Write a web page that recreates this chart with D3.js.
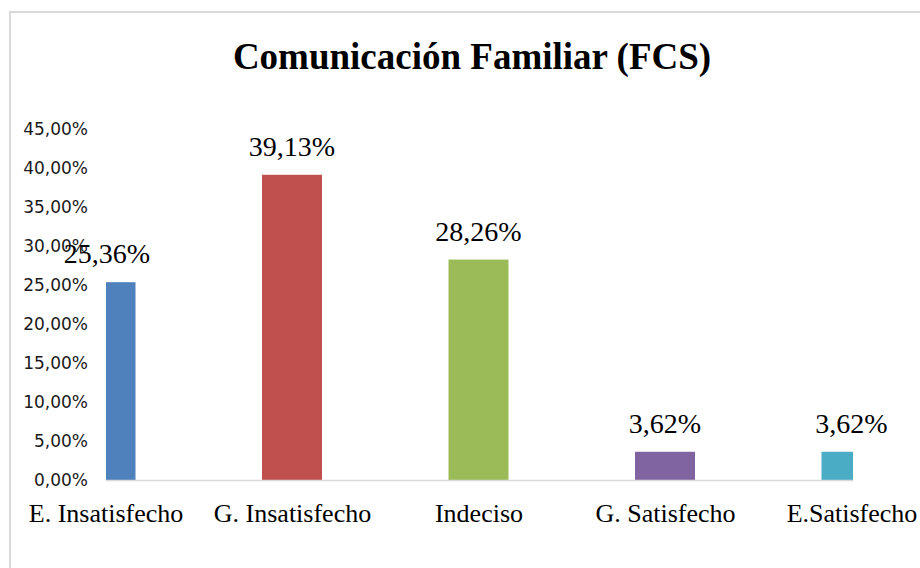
<!DOCTYPE html>
<html>
<head>
<meta charset="utf-8">
<script src="https://cdn.jsdelivr.net/npm/d3@7"></script>
<style>
  html, body { margin: 0; padding: 0; background: #fff; }
  svg { display: block; }
  .serif { font-family: "Liberation Serif", "DejaVu Serif", "Noto Serif", "Times New Roman", serif; }
  .sans { font-family: "DejaVu Sans", Verdana, sans-serif; }
</style>
</head>
<body>
<svg id="chart" width="920" height="568"></svg>
<script>
const title = "Comunicación Familiar (FCS)";
const categories = ["E. Insatisfecho", "G. Insatisfecho", "Indeciso", "G. Satisfecho", "E.Satisfecho"];
const values = [25.36, 39.13, 28.26, 3.62, 3.62];
const valueLabels = ["25,36%", "39,13%", "28,26%", "3,62%", "3,62%"];
const colors = ["#4F81BD", "#C0504D", "#9BBB59", "#8064A2", "#4BACC6"];
const yTicks = [0, 5, 10, 15, 20, 25, 30, 35, 40, 45];
const yTickLabels = ["0,00%", "5,00%", "10,00%", "15,00%", "20,00%", "25,00%", "30,00%", "35,00%", "40,00%", "45,00%"];

const svg = d3.select("#chart");

// chart frame
svg.append("path")
  .attr("d", "M10,568 L10,12 L920,12")
  .attr("fill", "none")
  .attr("stroke", "#d9d9d9")
  .attr("stroke-width", 2);

// title
svg.append("text")
  .attr("class", "serif")
  .attr("x", 472)
  .attr("y", 69)
  .attr("text-anchor", "middle")
  .attr("font-weight", "bold")
  .attr("font-size", 37)
  .attr("fill", "#000")
  .text(title);

const plot = { left: 106, right: 853, top: 129, bottom: 480 };

const x = d3.scalePoint().domain(categories).range([105.5, 851.5]);
const y = d3.scaleLinear().domain([0, 45]).range([plot.bottom, plot.top]);
const barW = 60;

svg.append("defs").append("clipPath").attr("id", "plotclip")
  .append("rect")
  .attr("x", plot.left).attr("y", 0)
  .attr("width", plot.right - plot.left).attr("height", plot.bottom + 1);

// y axis labels
const yAxis = d3.axisLeft(y)
  .tickValues(yTicks)
  .tickFormat((d, i) => yTickLabels[i])
  .tickSize(0)
  .tickPadding(0);
const yg = svg.append("g").attr("transform", "translate(88,0)").call(yAxis);
yg.select(".domain").remove();
yg.attr("font-family", null).attr("font-size", null);
yg.selectAll("text")
  .attr("class", "sans")
  .attr("font-size", 17)
  .attr("fill", "#1a1a1a");

// bars
svg.append("g").attr("clip-path", "url(#plotclip)")
  .selectAll("rect")
  .data(values)
  .join("rect")
  .attr("x", (d, i) => x(categories[i]) - barW / 2)
  .attr("y", d => y(d))
  .attr("width", barW)
  .attr("height", d => y(0) - y(d))
  .attr("fill", (d, i) => colors[i]);

// x axis line
const xAxis = d3.axisBottom(x).tickSize(0).tickPadding(0);
const xg = svg.append("g").attr("transform", `translate(0,${plot.bottom})`).call(xAxis);
xg.attr("font-family", null).attr("font-size", null);
xg.select(".domain")
  .attr("d", `M${plot.left},0.5H${plot.right}`)
  .attr("stroke", "#d9d9d9")
  .attr("stroke-width", 1.5);
xg.selectAll("text")
  .attr("class", "serif")
  .attr("y", 42)
  .attr("dy", 0)
  .attr("font-size", 26)
  .attr("fill", "#000");

// data labels
svg.append("g")
  .selectAll("text")
  .data(values)
  .join("text")
  .attr("class", "serif")
  .attr("x", (d, i) => x(categories[i]) + (i === 0 ? 1.5 : 0))
  .attr("y", d => y(d) - 19)
  .attr("text-anchor", "middle")
  .attr("font-size", 28)
  .attr("fill", "#000")
  .text((d, i) => valueLabels[i]);
</script>
</body>
</html>
